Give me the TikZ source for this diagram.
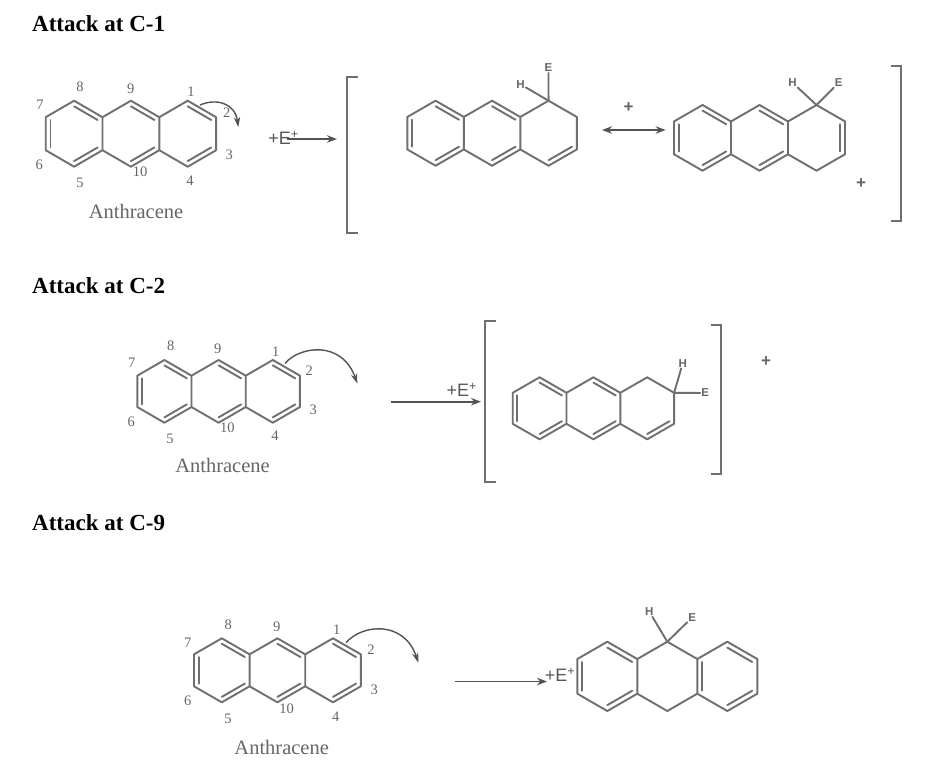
\documentclass[tikz,border=0pt]{standalone}
\usepackage{fontspec}
\setmainfont{Liberation Serif}
\setsansfont{Liberation Sans}
\usetikzlibrary{calc,arrows.meta}
\definecolor{bondgray}{HTML}{6F6F6F}
\definecolor{labgray}{HTML}{666666}
\tikzset{
  bond/.style={draw=bondgray,line width=1.9pt,line join=round,line cap=round},
  bracketline/.style={draw=bondgray,line width=1.9pt,line join=miter},
  rxnarrow/.style={draw=bondgray!75!black,line width=1.6pt,-{Stealth[length=10pt,width=7.5pt]}},
  dblarrow/.style={draw=bondgray!75!black,line width=1.6pt,{Stealth[length=10pt,width=7.5pt]}-{Stealth[length=10pt,width=7.5pt]}},
  curvearrow/.style={draw=bondgray!75!black,line width=1.4pt,-{Stealth[length=10pt,width=6.5pt]}},
  titlelab/.style={font=\fontsize{23}{26}\selectfont\bfseries,text=black,inner sep=0pt},
  numlab/.style={font=\fontsize{14.5}{16}\selectfont,text=labgray,inner sep=0pt},
  namelab/.style={font=\fontsize{20.5}{22}\selectfont,text=labgray,inner sep=0pt},
  eplus/.style={font=\sffamily\fontsize{18}{20}\selectfont,text=labgray!85!black,inner sep=0pt},
  atomlab/.style={font=\sffamily\bfseries\fontsize{11.5}{13}\selectfont,text=labgray,inner sep=1pt},
  pluslab/.style={font=\sffamily\bfseries\fontsize{17}{19}\selectfont,text=labgray,inner sep=0pt},
}
% #1 x of left edge, #2 y of top, #3 column width, #4 height, #5 double bonds
\newcommand\molecule[5]{%
  \begin{scope}[shift={(#1pt,-#2pt)},x=#3pt,y=-#4pt]
    \coordinate (p0u) at (0,.25); \coordinate (p0l) at (0,.75);
    \coordinate (p1t) at (1,0);   \coordinate (p1b) at (1,1);
    \coordinate (p2u) at (2,.25); \coordinate (p2l) at (2,.75);
    \coordinate (p3t) at (3,0);   \coordinate (p3b) at (3,1);
    \coordinate (p4u) at (4,.25); \coordinate (p4l) at (4,.75);
    \coordinate (p5t) at (5,0);   \coordinate (p5b) at (5,1);
    \coordinate (p6u) at (6,.25); \coordinate (p6l) at (6,.75);
    \coordinate (c1) at (1,.5); \coordinate (c2) at (3,.5); \coordinate (c3) at (5,.5);
  \end{scope}
  \draw[bond] (p0u)--(p1t)--(p2u)--(p3t)--(p4u)--(p5t)--(p6u)--(p6l)--(p5b)--(p4l)--(p3b)--(p2l)--(p1b)--(p0l)--cycle
    (p2u)--(p2l) (p4u)--(p4l);
  \foreach \A/\B/\C in {#5}{
    \draw[bond] ($(\A)!.17!(\C)$)--($(\B)!.17!(\C)$);
  }%
}
\begin{document}
\begin{tikzpicture}[x=1pt,y=-1pt]
\useasboundingbox (0,0) rectangle (942,764);
\fill[white] (0,0) rectangle (942,764);

% --- titles
\node[titlelab,anchor=west] (t1) at (32,23.5) {Attack at C-1};
\node[titlelab,anchor=west] (t2) at (32,285.5) {Attack at C-2};
\node[titlelab,anchor=west] (t3) at (32,522.5) {Attack at C-9};

% --- row 1
\molecule{45.7}{100.7}{28.4}{66}{p0u/p0l/c1,p1t/p2u/c1,p1b/p2l/c1,p3t/p4u/c2,p3b/p4l/c2,p5t/p6u/c3,p5b/p6l/c3}
\foreach \n/\x/\y in {8/80/86.7,9/130.7/89,1/191/91.7,2/226.7/112.7,3/229.3/154.3,4/190/180.7,10/140/171.7,5/80/183.3,6/39.3/165,7/40/105}
  \node[numlab] (a\n) at (\x,\y) {\n};
\node[namelab] (an1) at (136,211) {Anthracene};
\coordinate (cs1) at (200,105); \coordinate (ce1) at (238.3,127);
\draw[curvearrow] (cs1) .. controls (216,98) and (235,103) .. (ce1);
\node[eplus] (ep1) at (283.5,138) {+E\textsuperscript{+}};
\coordinate (as1) at (286.7,139); \coordinate (ae1) at (337,139);
\draw[rxnarrow] (as1) -- (ae1);
\coordinate (bl1a) at (358,76.7); \coordinate (bl1b) at (347.3,76.7); \coordinate (bl1c) at (347.3,232.7); \coordinate (bl1d) at (358,232.7);
\draw[bracketline] (bl1a)--(bl1b)--(bl1c)--(bl1d);

\molecule{407.3}{100.7}{28.25}{65}{p0u/p0l/c1,p1t/p2u/c1,p1b/p2l/c1,p3t/p4u/c2,p3b/p4l/c2,p5b/p6l/c3}
\node[atomlab] (h1) at (520.5,84.3) {H};
\node[atomlab] (e1) at (548.5,68) {E};
\draw[bond] (p5t)--(h1);
\draw[bond] (p5t)--(e1);
\node[pluslab] (pl1) at (628.6,107.7) {+};
\coordinate (da) at (602,130); \coordinate (db) at (665.6,130);
\draw[dblarrow] (da)--(db);

\molecule{674}{105}{28.5}{65.7}{p0u/p0l/c1,p1t/p2u/c1,p1b/p2l/c1,p3t/p4u/c2,p3b/p4l/c2,p6u/p6l/c3}
\node[atomlab] (h2) at (792.5,82.7) {H};
\node[atomlab] (e2) at (838.7,82.7) {E};
\draw[bond] (p5t)--(h2);
\draw[bond] (p5t)--(e2);
\node[pluslab] (pl2) at (861,183.3) {+};
\coordinate (br1a) at (890.5,65.7); \coordinate (br1b) at (901,65.7); \coordinate (br1c) at (901,220.7); \coordinate (br1d) at (890.5,220.7);
\draw[bracketline] (br1a)--(br1b)--(br1c)--(br1d);

% --- row 2
\molecule{137.3}{360}{27.1}{62.7}{p0u/p0l/c1,p1t/p2u/c1,p1b/p2l/c1,p3t/p4u/c2,p3b/p4l/c2,p5t/p6u/c3,p5b/p6l/c3}
\foreach \n/\x/\y in {8/170.7/346,9/217.7/348.7,1/275.7/351.7,2/309.3/371,3/313.3/410,4/275/435.3,10/227.3/427.3,5/170/439.3,6/131.3/421.7,7/131.7/362.7}
  \node[numlab] (b\n) at (\x,\y) {\n};
\node[namelab] (an2) at (222.5,465) {Anthracene};
\coordinate (cs2) at (285,363.3); \coordinate (ce2) at (357.3,383.5);
\draw[curvearrow] (cs2) .. controls (300,346) and (342,340) .. (ce2);
\node[eplus] (ep2) at (461.7,389.5) {+E\textsuperscript{+}};
\coordinate (as2) at (391,401.7); \coordinate (ae2) at (481,401.7);
\draw[rxnarrow] (as2) -- (ae2);
\coordinate (bl2a) at (496,321); \coordinate (bl2b) at (485,321); \coordinate (bl2c) at (485,481.7); \coordinate (bl2d) at (496,481.7);
\draw[bracketline] (bl2a)--(bl2b)--(bl2c)--(bl2d);

\molecule{512.7}{377.3}{26.9}{62}{p0u/p0l/c1,p1t/p2u/c1,p1b/p2l/c1,p3t/p4u/c2,p3b/p4l/c2,p5b/p6l/c3}
\node[atomlab] (h3) at (682.7,363.3) {H};
\node[atomlab] (e3) at (705.3,393) {E};
\draw[bond] (p6u)--(h3);
\draw[bond] (p6u)--(e3);
\coordinate (br2a) at (711,325.3); \coordinate (br2b) at (721,325.3); \coordinate (br2c) at (721,474.3); \coordinate (br2d) at (711,474.3);
\draw[bracketline] (br2a)--(br2b)--(br2c)--(br2d);
\node[pluslab] (pl3) at (766,362) {+};

% --- row 3
\molecule{194}{638.3}{27.8}{64}{p0u/p0l/c1,p1t/p2u/c1,p1b/p2l/c1,p3t/p4u/c2,p3b/p4l/c2,p5t/p6u/c3,p5b/p6l/c3}
\foreach \n/\x/\y in {8/228.3/625,9/276.7/626.7,1/336.7/629.3,2/371/650,3/374.3/690,4/335.7/716.3,10/286.7/708.3,5/228/719,6/187.7/701,7/187.7/642.7}
  \node[numlab] (c\n) at (\x,\y) {\n};
\node[namelab] (an3) at (281.7,747) {Anthracene};
\coordinate (cs3) at (346,642.7); \coordinate (ce3) at (418.3,662.5);
\draw[curvearrow] (cs3) .. controls (362,624) and (404,620) .. (ce3);
\coordinate (as3) at (455,681.5); \coordinate (ae3) at (547,681.5);
\draw[rxnarrow] (as3) -- (ae3);
\node[eplus] (ep3) at (560,675) {+E\textsuperscript{+}};

\molecule{577.3}{641.7}{30}{69.3}{p0u/p0l/c1,p1t/p2u/c1,p1b/p2l/c1,p4u/p4l/c3,p5t/p6u/c3,p5b/p6l/c3}
\node[atomlab] (h4) at (649.3,611.7) {H};
\node[atomlab] (e4) at (692.3,617.3) {E};
\draw[bond] (p3t)--(h4);
\draw[bond] (p3t)--(e4);
\end{tikzpicture}
\end{document}
